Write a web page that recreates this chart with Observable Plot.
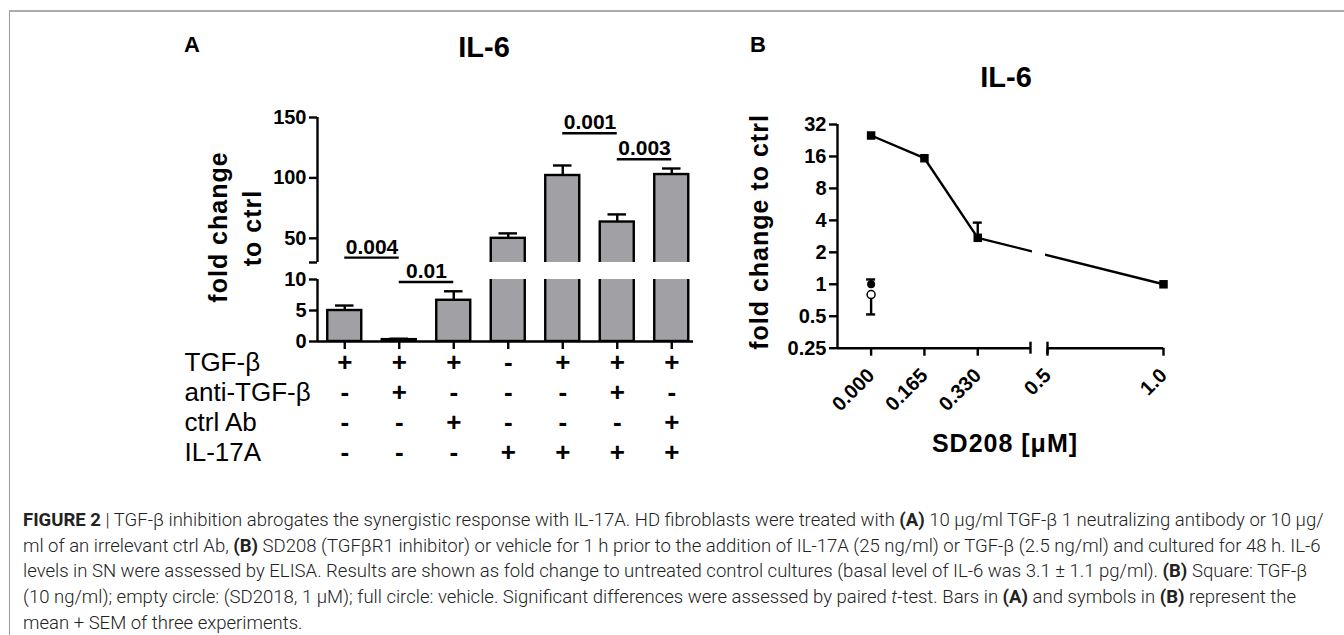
<!DOCTYPE html>
<html><head><meta charset="utf-8">
<script src="https://cdn.jsdelivr.net/npm/d3@7"></script>
<script src="https://cdn.jsdelivr.net/npm/@observablehq/plot@0.6"></script>
<style>
html,body{margin:0;padding:0;background:#fff;}
#page{position:relative;width:1344px;height:635px;overflow:hidden;background:#fff;font-family:"Liberation Sans",Arial,Helvetica,sans-serif;}
#frame{position:absolute;left:9px;top:10px;width:1400px;height:700px;border-top:2px solid #ababab;border-left:1.5px solid #9a9a9a;}
#caption{position:absolute;left:23px;top:508px;font-family:Roboto,"Liberation Sans",sans-serif;font-weight:300;color:#222;white-space:nowrap;font-size:18px;}
#caption div{height:25.7px;line-height:25.7px;}
#caption b{font-weight:700;}
</style></head>
<body><div id="page"><div id="frame"></div>
<div id="caption">
<div id="cap1"><b>FIGURE 2</b> | TGF-β inhibition abrogates the synergistic response with IL-17A. HD fibroblasts were treated with <b>(A)</b> 10 μg/ml TGF-β 1 neutralizing antibody or 10 μg/</div>
<div>ml of an irrelevant ctrl Ab, <b>(B)</b> SD208 (TGFβR1 inhibitor) or vehicle for 1 h prior to the addition of IL-17A (25 ng/ml) or TGF-β (2.5 ng/ml) and cultured for 48 h. IL-6</div>
<div>levels in SN were assessed by ELISA. Results are shown as fold change to untreated control cultures (basal level of IL-6 was 3.1 ± 1.1 pg/ml). <b>(B)</b> Square: TGF-β</div>
<div>(10 ng/ml); empty circle: (SD2018, 1 μM); full circle: vehicle. Significant differences were assessed by paired <i>t</i>-test. Bars in <b>(A)</b> and symbols in <b>(B)</b> represent the</div>
<div>mean + SEM of three experiments.</div>
</div>
</div>
<script>
// ---------------- Panel A data ----------------
const conditionsA = [1, 2, 3, 4, 5, 6, 7];
const meanA = [5.0, 0.3, 6.65, 50.0, 102.0, 63.5, 102.8];
const semA = [0.8, 0.15, 1.45, 4.1, 8.3, 6.3, 5.0];
const rowNames = ["TGF-β", "anti-TGF-β", "ctrl Ab", "IL-17A"];
const tgfSigns = ["+", "+", "+", "-", "+", "+", "+"];
const antiSigns = ["-", "+", "-", "-", "-", "+", "-"];
const ctrlSigns = ["-", "-", "+", "-", "-", "-", "+"];
const il17Signs = ["-", "-", "-", "+", "+", "+", "+"];
const pLabels = ["0.004", "0.01", "0.001", "0.003"];
const pFrom = [1, 2, 5, 6];
const pTo = [2, 3, 6, 7];
const pLevel = [34, 9.6, 137, 115.5];
const yTicksUpper = [50, 100, 150];
const yTicksLower = [0, 5, 10];

// ---------------- Panel B data ----------------
const doseB = [0, 0.165, 0.33, 1.0];
const tgfMeanB = [25.2, 15.4, 2.74, 1.0];
const tgfSemB = [0.8, 0.5, 1.07, 0.03];
const vehicleDose = [0];
const vehicleMean = [1.0];
const vehicleSem = [0.11];
const sdDose = [0];
const sdMean = [0.80];
const sdSem = [0.28];
const xTickB = [0, 0.165, 0.33, 0.5, 1.0];
const xTickLabelsB = ["0.000", "0.165", "0.330", "0.5", "1.0"];
const yTicksB = [0.25, 0.5, 1, 2, 4, 8, 16, 32];

// ---------------- helpers ----------------
const page = document.getElementById("page");
const FONT = '"Liberation Sans", Arial, Helvetica, sans-serif';
const gray = "#a1a1a5";
const SW = 2.4;
const baseStyle = {background: "transparent", overflow: "visible", color: "black", fontFamily: FONT, fontWeight: "bold"};
function place(el, left, top) {
  el.style.position = "absolute"; el.style.left = left + "px"; el.style.top = top + "px";
  page.appendChild(el);
}

const barsA = conditionsA.map((c, k) => ({i: c, mean: meanA[k], hi: meanA[k] + semA[k]}));
const pData = pLabels.map((l, k) => ({label: l, a: pFrom[k], b: pTo[k], y: pLevel[k]}));
const upperBars = barsA.filter(d => d.mean > 30);
const lowerErr = barsA.filter(d => d.mean < 10);
const upperP = pData.filter(d => d.y > 20);
const lowerP = pData.filter(d => d.y <= 20);
const hw = 0.312, cw = 0.17;

// Panel A – upper segment (30–150)
const upper = Plot.plot({
  width: 720, height: 262, marginLeft: 317, marginRight: 21.5, marginTop: 117, marginBottom: 0,
  style: baseStyle,
  x: {domain: [0.5, 7.5], axis: null, label: null},
  y: {domain: [30, 150], axis: null, label: null},
  marks: [
    Plot.rect(upperBars, {x1: d => d.i - hw, x2: d => d.i + hw, y1: 0, y2: "mean", fill: gray, stroke: "black", strokeWidth: SW, clip: true}),
    Plot.ruleX(upperBars, {x: "i", y1: "mean", y2: "hi", strokeWidth: SW}),
    Plot.ruleY(upperBars, {y: "hi", x1: d => d.i - cw, x2: d => d.i + cw, strokeWidth: SW}),
    Plot.ruleX([0.5], {y1: 30, y2: 150, strokeWidth: SW}),
    Plot.axisY({ticks: [30, ...yTicksUpper], tickFormat: d => d === 30 ? "" : String(d), tickSize: 8, tickPadding: 3, strokeWidth: SW, fontSize: 20, fontWeight: "bold", label: null}),
    Plot.ruleY(upperP, {y: "y", x1: "a", x2: "b", strokeWidth: SW}),
    Plot.text(upperP, {x: d => (d.a + d.b) / 2, y: "y", text: "label", dy: -4, lineAnchor: "bottom", fontSize: 21, fontWeight: "bold"})
  ]
});
place(upper, 0, 0);

// Panel A – lower segment (0–10) with the treatment table
const signRows = [tgfSigns, antiSigns, ctrlSigns, il17Signs];
const rowDy = [21, 51, 81, 111];
const tableMarks = [];
signRows.forEach((signs, r) => {
  tableMarks.push(Plot.text(conditionsA, {x: d => d, text: (d, k) => signs[k], frameAnchor: "bottom", dy: rowDy[r], lineAnchor: "middle", fontSize: 26, fontWeight: "bold"}));
  tableMarks.push(Plot.text([rowNames[r]], {text: d => d, frameAnchor: "bottom-left", dx: -133, dy: rowDy[r], textAnchor: "start", lineAnchor: "middle", fontSize: 26, fontWeight: "normal"}));
});
const lower = Plot.plot({
  width: 720, height: 228, marginLeft: 317, marginRight: 21.5, marginTop: 17, marginBottom: 149,
  style: baseStyle,
  x: {domain: [0.5, 7.5], axis: null, label: null},
  y: {domain: [0, 10], axis: null, label: null},
  marks: [
    Plot.rect(barsA, {x1: d => d.i - hw, x2: d => d.i + hw, y1: 0, y2: "mean", fill: gray, stroke: "black", strokeWidth: SW, clip: true}),
    Plot.ruleX(lowerErr, {x: "i", y1: "mean", y2: "hi", strokeWidth: SW}),
    Plot.ruleY(lowerErr, {y: "hi", x1: d => d.i - cw, x2: d => d.i + cw, strokeWidth: SW}),
    Plot.ruleX([0.5], {y1: 0, y2: 10, strokeWidth: SW}),
    Plot.ruleY([0], {x1: 0.5, x2: 7.4, strokeWidth: SW}),
    Plot.axisY({ticks: yTicksLower, tickSize: 8, tickPadding: 3, strokeWidth: SW, fontSize: 20, fontWeight: "bold", label: null}),
    Plot.axisX({ticks: conditionsA, tickFormat: () => "", tickSize: 8, strokeWidth: SW, label: null}),
    Plot.ruleY(lowerP, {y: "y", x1: "a", x2: "b", strokeWidth: SW}),
    Plot.text(lowerP, {x: d => (d.a + d.b) / 2, y: "y", text: "label", dy: -4, lineAnchor: "bottom", fontSize: 21, fontWeight: "bold"}),
    ...tableMarks
  ]
});
place(lower, 0, 262);

// Panel B – broken x axis via piecewise mapping
const brkEnd = 0.4932, brkStart = 0.5458, seg2 = 0.718;
const bx = x => x <= 0.45 ? x : brkStart + (x - 0.5) * seg2;
const uMin = -0.104, uMax = bx(1.0);
const bxTicks = xTickB.map(bx);
const bxLabel = new Map(bxTicks.map((u, k) => [u, xTickLabelsB[k]]));
const tgfB = doseB.map((x, k) => ({x, mean: tgfMeanB[k], hi: tgfMeanB[k] + tgfSemB[k]}));
const errB = tgfB.filter(d => d.hi / d.mean > 1.2);
const vehB = vehicleDose.map((x, k) => ({x, mean: vehicleMean[k], end: vehicleMean[k] + vehicleSem[k]}));
const sdB = sdDose.map((x, k) => ({x, mean: sdMean[k], end: sdMean[k] - sdSem[k]}));
const bcw = 0.014;

const plotB = Plot.plot({
  width: 480, height: 490, marginLeft: 137, marginRight: 17, marginTop: 124, marginBottom: 142.3,
  style: baseStyle,
  x: {domain: [uMin, uMax], axis: null, label: null},
  y: {type: "log", base: 2, domain: [0.25, 32], axis: null, label: null},
  marks: [
    Plot.ruleX([uMin], {y1: 0.25, y2: 32, strokeWidth: SW}),
    Plot.axisY({ticks: yTicksB, tickFormat: d => String(d), tickSize: 8, tickPadding: 3, strokeWidth: SW, fontSize: 20, fontWeight: "bold", label: null}),
    Plot.ruleY([0.25], {x1: uMin, x2: brkEnd, strokeWidth: SW}),
    Plot.ruleY([0.25], {x1: brkStart, x2: uMax, strokeWidth: SW}),
    Plot.ruleX([brkEnd, brkStart], {y1: 0.2195, y2: 0.2847, strokeWidth: SW}),
    Plot.axisX({ticks: bxTicks, tickFormat: u => bxLabel.get(u), tickSize: 8, tickPadding: 16, tickRotate: -45, strokeWidth: SW, fontSize: 20, fontWeight: "bold", label: null}),
    Plot.ruleX(errB, {x: d => bx(d.x), y1: "mean", y2: "hi", strokeWidth: SW}),
    Plot.ruleY(errB, {y: "hi", x1: d => bx(d.x) - bcw, x2: d => bx(d.x) + bcw, strokeWidth: SW}),
    Plot.ruleX(vehB, {x: d => bx(d.x), y1: "mean", y2: "end", strokeWidth: SW}),
    Plot.ruleY(vehB, {y: "end", x1: d => bx(d.x) - bcw, x2: d => bx(d.x) + bcw, strokeWidth: SW}),
    Plot.ruleX(sdB, {x: d => bx(d.x), y1: "mean", y2: "end", strokeWidth: SW}),
    Plot.ruleY(sdB, {y: "end", x1: d => bx(d.x) - bcw, x2: d => bx(d.x) + bcw, strokeWidth: SW}),
    Plot.line(tgfB, {x: d => bx(d.x), y: "mean", strokeWidth: SW}),
    Plot.rect([0], {x1: brkEnd + 0.006, x2: brkStart - 0.006, y1: 1.5, y2: 2.7, fill: "white"}),
    Plot.dot(tgfB, {x: d => bx(d.x), y: "mean", symbol: "square", r: 4.8, fill: "black"}),
    Plot.dot(vehB, {x: d => bx(d.x), y: "mean", r: 4, fill: "black"}),
    Plot.dot(sdB, {x: d => bx(d.x), y: "mean", r: 4, fill: "white", stroke: "black", strokeWidth: 1.5})
  ]
});
place(plotB, 700, 0);

// ---------------- titles & axis labels ----------------
const ov = d3.select(page).append("svg")
  .attr("width", 1344).attr("height", 635)
  .style("position", "absolute").style("left", "0px").style("top", "0px")
  .style("overflow", "visible")
  .attr("font-family", FONT).attr("font-weight", "bold").attr("fill", "black");
ov.append("text").attr("x", 184).attr("y", 52).attr("font-size", 22).text("A");
ov.append("text").attr("x", 484).attr("y", 57).attr("font-size", 29).attr("text-anchor", "middle").text("IL-6");
ov.append("text").attr("x", 750).attr("y", 52).attr("font-size", 22).text("B");
ov.append("text").attr("x", 1006).attr("y", 87).attr("font-size", 29).attr("text-anchor", "middle").text("IL-6");
function vlabel(x, y, t) {
  ov.append("text").attr("transform", `translate(${x},${y}) rotate(-90)`)
    .attr("text-anchor", "middle").attr("dominant-baseline", "central")
    .attr("font-size", 25).attr("letter-spacing", 1).text(t);
}
vlabel(218, 227, "fold change");
vlabel(252, 228, "to ctrl");
vlabel(759, 232, "fold change to ctrl");
ov.append("text").attr("x", 1005).attr("y", 452).attr("font-size", 25).attr("letter-spacing", 1)
  .attr("text-anchor", "middle").text("SD208 [μM]");

// fit caption width to the reference line length
const cap1 = document.getElementById("cap1");
const w1 = cap1.scrollWidth;
const cap = document.getElementById("caption");
const fs = 18 * 1301 / w1;
cap.style.fontSize = fs.toFixed(2) + "px";
</script>
</body></html>
